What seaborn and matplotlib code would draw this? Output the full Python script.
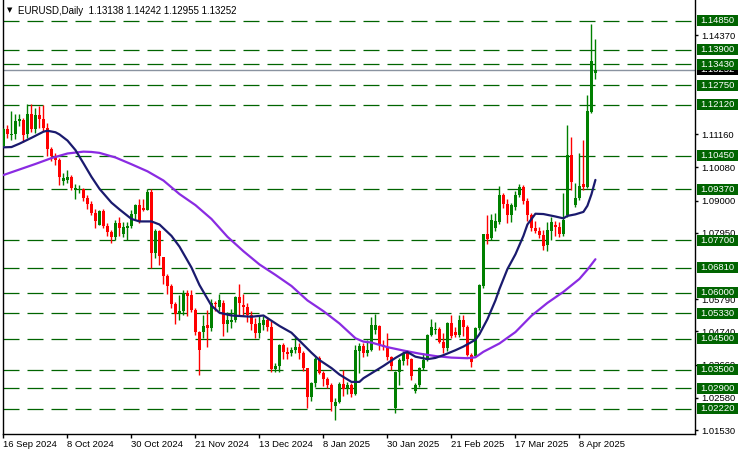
import numpy as np
import pandas as pd
import matplotlib
matplotlib.use('Agg')
import matplotlib.pyplot as plt
import matplotlib.transforms as mtransforms
from matplotlib.patches import Rectangle
import seaborn as sns

# EURUSD daily candles, 16 Sep 2024 .. 14 Apr 2025
opens = [1.1076, 1.1132, 1.1114, 1.1118, 1.1160, 1.1162, 1.1118, 1.1180, 1.1133, 1.1177,
         1.1164, 1.1135, 1.1066, 1.1046, 1.1032, 1.0962, 1.0968, 1.0977, 1.0935, 1.0935,
         1.0936, 1.0908, 1.0890, 1.0860, 1.0822, 1.0866, 1.0816, 1.0797, 1.0782, 1.0828,
         1.0790, 1.0812, 1.0817, 1.0856, 1.0884, 1.0876, 1.0870, 1.0929, 1.0729, 1.0800,
         1.0717, 1.0655, 1.0623, 1.0565, 1.0530, 1.0540, 1.0598, 1.0592, 1.0543, 1.0472,
         1.0473, 1.0494, 1.0486, 1.0566, 1.0554, 1.0568, 1.0498, 1.0505, 1.0512, 1.0587,
         1.0560, 1.0553, 1.0528, 1.0498, 1.0468, 1.0496, 1.0511, 1.0489, 1.0352, 1.0363,
         1.0430, 1.0408, 1.0403, 1.0413, 1.0425, 1.0405, 1.0354, 1.0262, 1.0306, 1.0388,
         1.0340, 1.0318, 1.0300, 1.0230, 1.0245, 1.0303, 1.0288, 1.0300, 1.0272, 1.0410,
         1.0428, 1.0403, 1.0414, 1.0478, 1.0492, 1.0430, 1.0422, 1.0390, 1.0224, 1.0343,
         1.0379, 1.0404, 1.0383, 1.0280, 1.0300, 1.0354, 1.0381, 1.0463, 1.0478, 1.0482,
         1.0440, 1.0420, 1.0500, 1.0472, 1.0464, 1.0512, 1.0487, 1.0398, 1.0394, 1.0485,
         1.0623, 1.0792, 1.0777, 1.0810, 1.0830, 1.0918, 1.0888, 1.0853, 1.0880, 1.0918,
         1.0944, 1.0900, 1.0852, 1.0812, 1.0800, 1.0789, 1.0755, 1.0800, 1.0822, 1.0815,
         1.0792, 1.0853, 1.1048, 1.0885, 1.0907, 1.0953, 1.0945, 1.1189, 1.13138]
highs = [1.1137, 1.1147, 1.1190, 1.1180, 1.1180, 1.1170, 1.1214, 1.1214, 1.1202, 1.1209,
         1.1210, 1.1153, 1.1074, 1.1054, 1.1039, 1.0988, 1.0998, 1.0982, 1.0954, 1.0950,
         1.0940, 1.0918, 1.0900, 1.0872, 1.0870, 1.0872, 1.0826, 1.0805, 1.0836, 1.0845,
         1.0830, 1.0830, 1.0870, 1.0890, 1.0905, 1.0905, 1.0937, 1.0937, 1.0806, 1.0803,
         1.0717, 1.0661, 1.0630, 1.0571, 1.0594, 1.0609, 1.0609, 1.0610, 1.0552, 1.0477,
         1.0527, 1.0544, 1.0581, 1.0572, 1.0596, 1.0576, 1.0537, 1.0546, 1.0590, 1.0630,
         1.0595, 1.0566, 1.0540, 1.0517, 1.0524, 1.0525, 1.0520, 1.0507, 1.0373, 1.0432,
         1.0435, 1.0425, 1.0425, 1.0455, 1.0435, 1.0410, 1.0356, 1.0310, 1.0390, 1.0395,
         1.0345, 1.0325, 1.0305, 1.0257, 1.0310, 1.0350, 1.0310, 1.0305, 1.0431, 1.0436,
         1.0435, 1.0446, 1.0522, 1.0530, 1.0495, 1.0446, 1.0468, 1.0395, 1.0346, 1.0388,
         1.0412, 1.0415, 1.0388, 1.0305, 1.0360, 1.0403, 1.0467, 1.0513, 1.0505, 1.0488,
         1.0468, 1.0505, 1.0528, 1.0490, 1.0528, 1.0528, 1.0494, 1.0405, 1.0490, 1.0630,
         1.0792, 1.0853, 1.0855, 1.0858, 1.0947, 1.0925, 1.0906, 1.0892, 1.0930, 1.0955,
         1.0950, 1.0907, 1.0860, 1.0832, 1.0815, 1.0805, 1.0830, 1.0847, 1.0832, 1.0830,
         1.0925, 1.1147, 1.1108, 1.0956, 1.1055, 1.1097, 1.1243, 1.1474, 1.14242]
lows = [1.1074, 1.1105, 1.1097, 1.1100, 1.1142, 1.1090, 1.1105, 1.1122, 1.1120, 1.1135,
        1.1125, 1.1044, 1.1030, 1.1016, 1.0951, 1.0952, 1.0956, 1.0934, 1.0905, 1.0925,
        1.0897, 1.0874, 1.0853, 1.0811, 1.0820, 1.0810, 1.0785, 1.0761, 1.0772, 1.0785,
        1.0780, 1.0770, 1.0812, 1.0840, 1.0828, 1.0865, 1.0868, 1.0682, 1.0713, 1.0690,
        1.0630, 1.0595, 1.0551, 1.0497, 1.0511, 1.0526, 1.0523, 1.0537, 1.0462, 1.0332,
        1.0453, 1.0423, 1.0474, 1.0540, 1.0540, 1.0460, 1.0473, 1.0485, 1.0505, 1.0525,
        1.0527, 1.0506, 1.0480, 1.0454, 1.0452, 1.0480, 1.0474, 1.0343, 1.0343, 1.0343,
        1.0385, 1.0385, 1.0395, 1.0405, 1.0385, 1.0345, 1.0224, 1.0248, 1.0295, 1.0335,
        1.0296, 1.0290, 1.0214, 1.0185, 1.0240, 1.0265, 1.0270, 1.0262, 1.0268, 1.0340,
        1.0390, 1.0393, 1.0410, 1.0465, 1.0414, 1.0415, 1.0380, 1.0350, 1.0210, 1.0300,
        1.0365, 1.0365, 1.0315, 1.0274, 1.0295, 1.0350, 1.0378, 1.0458, 1.0465, 1.0435,
        1.0403, 1.0410, 1.0452, 1.0455, 1.0455, 1.0460, 1.0393, 1.0360, 1.0390, 1.0480,
        1.0615, 1.0760, 1.0770, 1.0800, 1.0825, 1.0875, 1.0827, 1.0830, 1.0870, 1.0912,
        1.0890, 1.0832, 1.0802, 1.0793, 1.0777, 1.0740, 1.0735, 1.0772, 1.0783, 1.0780,
        1.0785, 1.0847, 1.0934, 1.0880, 1.0902, 1.0934, 1.0940, 1.1185, 1.12955]
closes = [1.1132, 1.1116, 1.1118, 1.1160, 1.1164, 1.1112, 1.1180, 1.1133, 1.1177, 1.1164,
          1.1135, 1.1066, 1.1046, 1.1032, 1.0975, 1.0974, 1.0977, 1.0940, 1.0940, 1.0938,
          1.0908, 1.0890, 1.0860, 1.0832, 1.0866, 1.0816, 1.0797, 1.0782, 1.0828, 1.0812,
          1.0814, 1.0817, 1.0856, 1.0884, 1.0833, 1.0870, 1.0929, 1.0729, 1.0800, 1.0719,
          1.0655, 1.0623, 1.0565, 1.0530, 1.0541, 1.0598, 1.0590, 1.0543, 1.0472, 1.0415,
          1.0492, 1.0486, 1.0566, 1.0563, 1.0577, 1.0498, 1.0510, 1.0512, 1.0587, 1.0567,
          1.0553, 1.0528, 1.0498, 1.0468, 1.0502, 1.0511, 1.0489, 1.0352, 1.0363, 1.0430,
          1.0408, 1.0400, 1.0414, 1.0425, 1.0405, 1.0354, 1.0262, 1.0306, 1.0383, 1.0340,
          1.0318, 1.0300, 1.0244, 1.0245, 1.0303, 1.0288, 1.0300, 1.0270, 1.0414, 1.0428,
          1.0405, 1.0414, 1.0494, 1.0494, 1.0430, 1.0422, 1.0390, 1.0362, 1.0343, 1.0381,
          1.0404, 1.0383, 1.0329, 1.0300, 1.0354, 1.0381, 1.0463, 1.0490, 1.0482, 1.0440,
          1.0420, 1.0500, 1.0459, 1.0464, 1.0512, 1.0487, 1.0398, 1.0375, 1.0485, 1.0625,
          1.0790, 1.0775, 1.0837, 1.0834, 1.0918, 1.0888, 1.0853, 1.0884, 1.0918, 1.0944,
          1.0900, 1.0852, 1.0812, 1.0800, 1.0789, 1.0752, 1.0803, 1.0830, 1.0815, 1.0792,
          1.0838, 1.1048, 1.0961, 1.0907, 1.0947, 1.0945, 1.1192, 1.1354, 1.13252]

# moving averages (navy = fast, purple = slow), read at these bars
ma_fast_bars = [0, 2, 4, 7, 10, 11, 13, 14, 16, 18, 20, 22, 24, 27, 29, 32, 34, 37, 39, 42,
                44, 47, 49, 52, 54, 57, 62, 65, 67, 69, 72, 74, 77, 79, 82, 84, 87, 89, 90, 93,
                95, 98, 100, 101, 103, 106, 108, 110, 113, 115, 118, 119, 121, 123, 124, 126,
                128, 130, 131, 133, 135, 138, 140, 141, 143, 145, 146, 147, 148]
ma_fast = [1.1073, 1.1074, 1.1085, 1.1104, 1.1124, 1.1127, 1.1122, 1.1115, 1.1095, 1.1064,
           1.1021, 1.0977, 1.0938, 1.0893, 1.0871, 1.0840, 1.0832, 1.0832, 1.0822, 1.0785,
           1.0750, 1.0682, 1.0625, 1.0558, 1.0535, 1.0526, 1.0522, 1.0526, 1.0509, 1.0492,
           1.0470, 1.0444, 1.0405, 1.0381, 1.0355, 1.0334, 1.0310, 1.0310, 1.0322, 1.0346,
           1.0362, 1.0388, 1.0403, 1.0407, 1.0392, 1.0384, 1.0388, 1.0397, 1.0413, 1.0425,
           1.0447, 1.0465, 1.0514, 1.0575, 1.0612, 1.0677, 1.0725, 1.0785, 1.0822, 1.0857,
           1.0856, 1.0848, 1.0842, 1.0850, 1.0855, 1.0863, 1.0883, 1.0920, 1.0967]
ma_slow_bars = [0, 4, 8, 12, 16, 20, 22, 24, 28, 32, 36, 40, 44, 48, 52, 56, 60, 64, 68, 72,
                76, 80, 84, 88, 90, 92, 96, 100, 104, 108, 112, 116, 118, 120, 124, 128, 132,
                136, 140, 144, 146, 148]
ma_slow = [1.0983, 1.1001, 1.1019, 1.1038, 1.1053, 1.1059, 1.1058, 1.1055, 1.1040, 1.1018,
           1.0995, 1.0965, 1.0921, 1.0885, 1.0840, 1.0782, 1.0735, 1.0692, 1.0658, 1.0622,
           1.0575, 1.0540, 1.0500, 1.0452, 1.0441, 1.0438, 1.0423, 1.0412, 1.0402, 1.0394,
           1.0389, 1.0387, 1.0390, 1.0408, 1.0435, 1.0472, 1.0525, 1.0567, 1.0603, 1.0645,
           1.0675, 1.0709]

levels = [1.14850, 1.13900, 1.13430, 1.12750, 1.12120, 1.10450, 1.09370, 1.07700,
          1.06810, 1.06000, 1.05330, 1.04500, 1.03500, 1.02900, 1.02220]
# axis labels that stay (at least partly) visible next to the level boxes
price_ticks = [1.14370, 1.11160, 1.10080, 1.09000, 1.07950,
               1.05790, 1.04740, 1.03660, 1.02580, 1.01530]
date_labels = ['16 Sep 2024', '8 Oct 2024', '30 Oct 2024', '21 Nov 2024', '13 Dec 2024',
               '8 Jan 2025', '30 Jan 2025', '21 Feb 2025', '17 Mar 2025', '8 Apr 2025']
last_price = 1.13252
header = 'EURUSD,Daily  1.13138 1.14242 1.12955 1.13252'

df = pd.DataFrame({'open': opens, 'high': highs, 'low': lows, 'close': closes})
df['bar'] = np.arange(len(df))
df['color'] = np.where(df['close'] >= df['open'], '#008000', '#ff0000')
df['body_lo'] = df[['open', 'close']].min(axis=1)
df['body_h'] = (df['close'] - df['open']).abs().clip(lower=0.00035)

sns.set_theme(style='white')
plt.rcParams['font.family'] = ['Liberation Sans', 'DejaVu Sans']

W, H = 741, 455
fig = plt.figure(figsize=(W / 100, H / 100), dpi=100)
ax = fig.add_axes([2.5 / W, 21 / H, 692.5 / W, 434 / H])
ax.set_facecolor('white')

# support / resistance levels
for lv in levels:
    ax.axhline(lv, color='#006400', lw=0.9, linestyle=(0, (12.8, 6.4)), zorder=2)
ax.axhline(last_price, color='#8a93a0', lw=1.0, zorder=2.2)

# candles
ax.vlines(df['bar'], df['low'], df['high'], colors=df['color'], lw=1.0, zorder=3)
ax.bar(df['bar'], df['body_h'], bottom=df['body_lo'], width=0.75,
       color=df['color'], linewidth=0, zorder=4)

# moving averages
sns.lineplot(x=ma_slow_bars, y=ma_slow, ax=ax, color='#8a2be2', lw=1.6, zorder=5, legend=False)
sns.lineplot(x=ma_fast_bars, y=ma_fast, ax=ax, color='#1a1a6e', lw=1.6, zorder=6, legend=False)

ax.set_xlim(-0.25, 172.9)
ax.set_ylim(1.01405, 1.15523)
ax.set_xlabel('')
ax.set_ylabel('')

for s in ['left', 'bottom', 'right']:
    ax.spines[s].set_visible(True)
    ax.spines[s].set_color('black')
    ax.spines[s].set_linewidth(1.0)
ax.spines['top'].set_visible(False)

ax.yaxis.tick_right()
ax.set_yticks(price_ticks)
ax.set_yticklabels([f'{p:.5f}' for p in price_ticks])
ax.set_xticks(np.arange(0, 16 * len(date_labels), 16))
ax.set_xticklabels(date_labels, ha='left')
ax.tick_params(axis='y', which='both', right=True, left=False, direction='out',
               length=2.5, width=1, pad=2.2, labelsize=6.8, colors='black')
ax.tick_params(axis='x', which='both', bottom=True, direction='out',
               length=2.8, width=1, pad=1.5, labelsize=6.8, colors='black')

# price boxes on the right axis
bt = mtransforms.blended_transform_factory(fig.transFigure, ax.transData)
box_h = 11 / 3074
ax.add_patch(Rectangle((696.5 / W, last_price - box_h / 2), 41 / W, box_h, transform=bt,
                       facecolor='black', edgecolor='none', clip_on=False, zorder=7))
ax.text(700 / W, last_price, f'{last_price:.5f}', transform=bt, color='white',
        fontsize=6.8, va='center', ha='left', clip_on=False, zorder=7.5)
for lv in levels:
    ax.add_patch(Rectangle((696.5 / W, lv - box_h / 2), 41 / W, box_h, transform=bt,
                           facecolor='#006400', edgecolor='none', clip_on=False, zorder=8))
    ax.text(700 / W, lv, f'{lv:.5f}', transform=bt, color='white',
            fontsize=6.8, va='center', ha='left', clip_on=False, zorder=9)

# header
fig.text(6.5 / W, 1 - 10.5 / H, '\u25bc', fontsize=5, family='DejaVu Sans',
         color='black', va='center', ha='left')
fig.text(18 / W, 1 - 10.5 / H, header, fontsize=7, color='black', va='center', ha='left')

fig.savefig('out.png', dpi=100)
